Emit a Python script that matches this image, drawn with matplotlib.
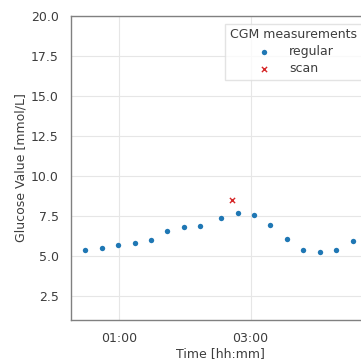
import datetime as dt
import matplotlib
matplotlib.use("Agg")
import matplotlib.pyplot as plt
import matplotlib.dates as mdates

# regular CGM readings (time, mmol/L)
reg_times = ["00:29", "00:44", "00:59", "01:14", "01:29", "01:44", "01:59", "02:14",
             "02:33", "02:48", "03:03", "03:18", "03:33", "03:48", "04:03", "04:18", "04:33"]
reg_values = [5.4, 5.5, 5.7, 5.8, 6.0, 6.55, 6.8, 6.9,
              7.4, 7.7, 7.55, 6.95, 6.05, 5.4, 5.25, 5.35, 5.95]

# scan readings
scan_times = ["02:43"]
scan_values = [8.5]


def to_dt(s):
    h, m = s.split(":")
    return dt.datetime(2020, 1, 1, int(h), int(m))


plt.rcParams["font.family"] = "DejaVu Sans"
txt = "#3d3d3d"
fs = 9

fig = plt.figure(figsize=(3.61, 3.60), dpi=100)
ax = fig.add_axes([71 / 361, 40 / 360, (369 - 71) / 361, (320 - 16) / 360])

ax.scatter([to_dt(t) for t in reg_times], reg_values, s=15, color="#1f77b4",
           marker="o", linewidths=0, label="regular", zorder=3)
ax.scatter([to_dt(t) for t in scan_times], scan_values, s=14, color="#d62728",
           marker="x", linewidths=1.0, label="scan", zorder=3)

ax.set_xlim(to_dt("00:16"), to_dt("00:16") + dt.timedelta(minutes=272))
ax.set_ylim(1, 20)
ax.set_yticks([2.5, 5.0, 7.5, 10.0, 12.5, 15.0, 17.5, 20.0])
ax.xaxis.set_major_locator(mdates.HourLocator(byhour=[1, 3]))
ax.xaxis.set_major_formatter(mdates.DateFormatter("%H:%M"))

ax.grid(True, color="#e6e6e6", linewidth=0.8)
ax.set_axisbelow(True)
for side in ["left", "bottom", "top"]:
    ax.spines[side].set_color("#808080")
    ax.spines[side].set_linewidth(1.0)
ax.spines["right"].set_visible(False)
ax.tick_params(length=0, pad=9, labelsize=fs, colors=txt)

ax.set_xlabel("Time [hh:mm]", fontsize=fs, color=txt, labelpad=1)
ax.set_ylabel("Glucose Value [mmol/L]", fontsize=fs, color=txt, labelpad=2)

leg = ax.legend(title="CGM measurements", loc="upper right", fontsize=fs,
                title_fontsize=fs, frameon=True, fancybox=False,
                borderaxespad=0.6, handletextpad=1.0, labelspacing=0.3,
                borderpad=0.4)
leg.get_frame().set_edgecolor("#dddddd")
for t in leg.get_texts():
    t.set_color(txt)
leg.get_title().set_color(txt)

fig.savefig("out.png", dpi=100)
